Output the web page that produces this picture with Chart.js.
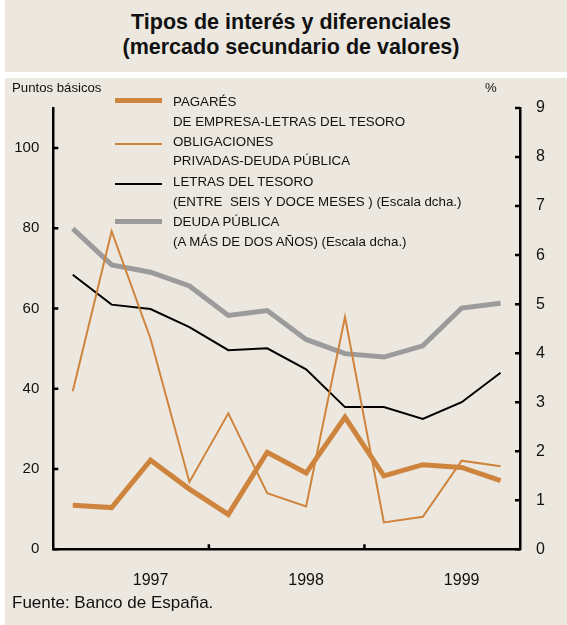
<!DOCTYPE html>
<html>
<head>
<meta charset="utf-8">
<script src="https://cdn.jsdelivr.net/npm/chart.js@4/dist/chart.umd.min.js"></script>
<style>
  html, body { margin:0; padding:0; background:#ffffff; }
  body { width:567px; height:625px; position:relative; overflow:hidden;
         font-family:"Liberation Sans", Arial, Helvetica, sans-serif; color:#111; }
  .box { position:absolute; background:#ECE8DF; }
  #titlebox { left:5px; top:0; width:562px; height:72px; }
  #chartbox { left:5px; top:78px; width:562px; height:547px; }
  .t { position:absolute; white-space:nowrap; }
  .title { left:5px; width:572px; text-align:center; font-weight:bold; font-size:21.5px; line-height:26px; color:#111; }
  .lg { font-size:13.3px; line-height:16px; left:173px; }
  .sw { position:absolute; left:115px; width:47px; }
  canvas { position:absolute; left:0; top:0; }
</style>
</head>
<body>
<div id="titlebox" class="box"></div>
<div id="chartbox" class="box"><canvas id="c" width="562" height="547"></canvas></div>

<div class="t title" style="top:9px;">Tipos de interés y diferenciales</div>
<div class="t title" style="top:34px;">(mercado secundario de valores)</div>

<div class="t" style="left:12px; top:80px; font-size:13.2px;">Puntos básicos</div>
<div class="t" style="left:485px; top:80px; font-size:13.2px;">%</div>

<div class="sw" style="top:98px; height:5px; background:#CF843E;"></div>
<div class="t lg" style="top:94px;">PAGARÉS</div>
<div class="t lg" style="top:114px;">DE EMPRESA-LETRAS DEL TESORO</div>
<div class="sw" style="top:143px; height:2px; background:#CF843E;"></div>
<div class="t lg" style="top:134px;">OBLIGACIONES</div>
<div class="t lg" style="top:153px;">PRIVADAS-DEUDA PÚBLICA</div>
<div class="sw" style="top:183px; height:2px; background:#000000;"></div>
<div class="t lg" style="top:174px;">LETRAS DEL TESORO</div>
<div class="t lg" style="top:194px;">(ENTRE&nbsp; SEIS Y DOCE MESES ) (Escala dcha.)</div>
<div class="sw" style="top:219px; height:5px; background:#9B9B9B;"></div>
<div class="t lg" style="top:214px;">DEUDA PÚBLICA</div>
<div class="t lg" style="top:234px;">(A MÁS DE DOS AÑOS) (Escala dcha.)</div>

<div class="t" style="left:12px; top:593px; font-size:17px;">Fuente: Banco de España.</div>

<script>
// ---- Data (quarterly, 1997 T1 – 1999 T4) ----
const quarters = ['1997 T1','1997 T2','1997 T3','1997 T4',
                  '1998 T1','1998 T2','1998 T3','1998 T4',
                  '1999 T1','1999 T2','1999 T3','1999 T4'];
const yearLabels = ['1997','1998','1999'];
// Puntos básicos (left scale)
const pagares      = [11.0, 10.4, 22.2, 15.0, 8.7, 24.2, 19.0, 32.9, 18.3, 21.1, 20.4, 17.1];
const obligaciones = [39.4, 79.3, 52.5, 16.8, 33.9, 14.0, 10.7, 57.9, 6.7, 8.1, 22.1, 20.7];
// % (right scale)
const letras       = [5.60, 4.99, 4.90, 4.53, 4.06, 4.10, 3.67, 2.90, 2.90, 2.66, 3.00, 3.60];
const deuda        = [6.54, 5.80, 5.65, 5.37, 4.77, 4.87, 4.28, 3.99, 3.92, 4.15, 4.92, 5.02];
const leftTicks  = [0, 20, 40, 60, 80, 100];
const rightTicks = [0, 1, 2, 3, 4, 5, 6, 7, 8, 9];

// Build {x,y} points: each quarter centred in its slot on a 0..12 quarter axis
const pts = arr => arr.map((v, i) => ({ x: i + 0.5, y: v }));

const ORANGE = '#CF843E', GREY = '#9B9B9B';
const FAM = '"Liberation Sans", Arial, sans-serif';

const inwardTicks = {
  id: 'inwardTicks',
  afterDraw(chart) {
    const ctx = chart.ctx, a = chart.chartArea;
    const yl = chart.scales.yL, yr = chart.scales.yR, x = chart.scales.x;
    ctx.save();
    ctx.strokeStyle = '#000'; ctx.lineWidth = 2.5; ctx.lineCap = 'butt';
    ctx.beginPath();
    leftTicks.forEach(v => { const y = yl.getPixelForValue(v); ctx.moveTo(a.left, y); ctx.lineTo(a.left + 5, y); });
    rightTicks.forEach(v => { const y = yr.getPixelForValue(v); ctx.moveTo(a.right - 5, y); ctx.lineTo(a.right, y); });
    [4, 8].forEach(v => { const px = x.getPixelForValue(v); ctx.moveTo(px, a.bottom); ctx.lineTo(px, a.bottom - 5); });
    ctx.stroke();
    ctx.restore();
  }
};

new Chart(document.getElementById('c'), {
  type: 'line',
  data: {
    datasets: [
      { label: 'PAGARÉS DE EMPRESA-LETRAS DEL TESORO', data: pts(pagares), yAxisID: 'yL',
        borderColor: ORANGE, borderWidth: 5 },
      { label: 'OBLIGACIONES PRIVADAS-DEUDA PÚBLICA', data: pts(obligaciones), yAxisID: 'yL',
        borderColor: ORANGE, borderWidth: 2 },
      { label: 'LETRAS DEL TESORO (ENTRE SEIS Y DOCE MESES) (Escala dcha.)', data: pts(letras), yAxisID: 'yR',
        borderColor: '#000', borderWidth: 2 },
      { label: 'DEUDA PÚBLICA (A MÁS DE DOS AÑOS) (Escala dcha.)', data: pts(deuda), yAxisID: 'yR',
        borderColor: GREY, borderWidth: 5 }
    ]
  },
  options: {
    responsive: false,
    animation: false,
    devicePixelRatio: 1,
    layout: { padding: { top: 30, left: 0, right: 0, bottom: 0 } },
    elements: { point: { radius: 0, hoverRadius: 0 }, line: { tension: 0, borderJoinStyle: 'miter' } },
    plugins: { legend: { display: false }, tooltip: { enabled: false } },
    scales: {
      x: {
        type: 'linear', min: 0, max: 12,
        grid: { display: false },
        border: { display: true, color: '#000', width: 2.5 },
        afterBuildTicks: s => { s.ticks = yearLabels.map((y, i) => ({ value: 2.5 + 4 * i })); },
        afterFit: s => { s.height = 75.7; },
        ticks: { color: '#111', font: { family: FAM, size: 16 }, padding: 14, maxRotation: 0, autoSkip: false,
                 callback: (v) => yearLabels[Math.round((v - 2.5) / 4)] }
      },
      yL: {
        type: 'linear', position: 'left', min: 0, max: 110,
        grid: { display: false },
        border: { display: true, color: '#000', width: 2.5 },
        afterBuildTicks: s => { s.ticks = leftTicks.map(v => ({ value: v })); },
        afterFit: s => { s.width = 48.3; },
        ticks: { color: '#111', font: { family: FAM, size: 15 }, padding: 6 }
      },
      yR: {
        type: 'linear', position: 'right', min: 0, max: 9,
        grid: { display: false },
        border: { display: true, color: '#000', width: 2.5 },
        afterBuildTicks: s => { s.ticks = rightTicks.map(v => ({ value: v })); },
        afterFit: s => { s.width = 47; },
        ticks: { color: '#111', font: { family: FAM, size: 16 }, padding: 8 }
      }
    }
  },
  plugins: [inwardTicks]
});
</script>
</body>
</html>
